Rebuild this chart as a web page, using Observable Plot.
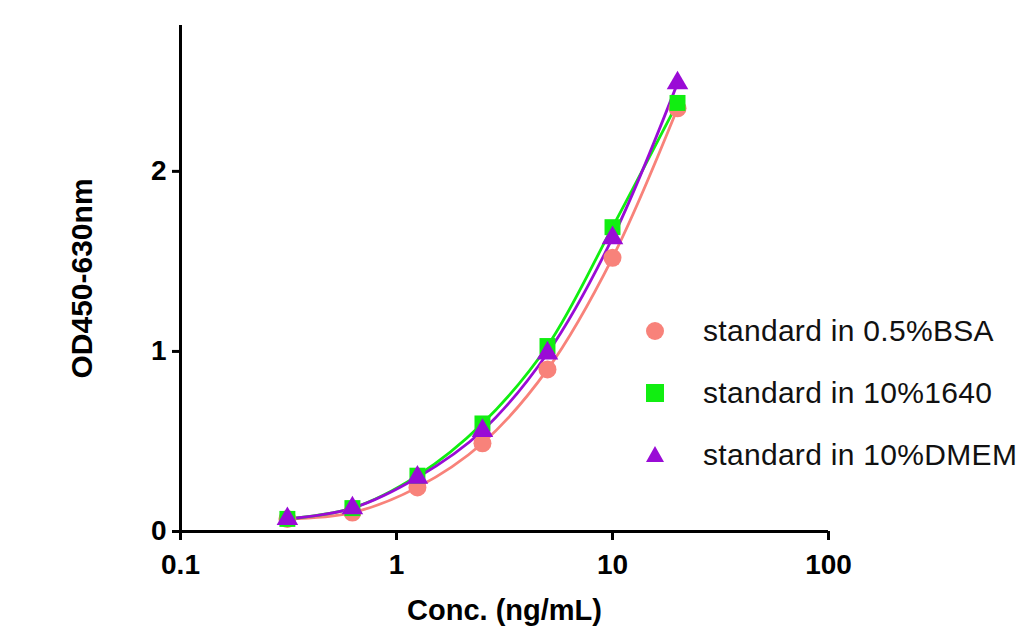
<!DOCTYPE html>
<html>
<head>
<meta charset="utf-8">
<script src="https://cdn.jsdelivr.net/npm/d3@7"></script>
<script src="https://cdn.jsdelivr.net/npm/@observablehq/plot@0.6"></script>
<style>
  html, body { margin: 0; padding: 0; background: #fff; }
  #wrap { position: relative; width: 1027px; height: 641px; font-family: "Liberation Sans", Arial, sans-serif; }
  #legend { position: absolute; left: 640px; top: 300px; }
  .item { display: flex; align-items: center; height: 62px; font-size: 30px; letter-spacing: 0.3px; color: #111; }
  .item svg { width: 30px; height: 30px; margin-right: 33px; }
</style>
</head>
<body>
<div id="wrap"></div>
<script>
const conc = [0.3125, 0.625, 1.25, 2.5, 5, 10, 20];
const seriesNames = ["standard in 0.5%BSA", "standard in 10%1640", "standard in 10%DMEM"];
const bsa  = [0.07, 0.105, 0.245, 0.49, 0.90, 1.52, 2.35];
const rpmi = [0.07, 0.13, 0.31, 0.60, 1.03, 1.69, 2.38];
const dmem = [0.07, 0.13, 0.30, 0.56, 0.99, 1.63, 2.49];
const colors = ["#F8827A", "#11EE11", "#9A0BD6"];
const symbols = ["circle", "square", "triangle"];
const radii = [9, 9, 8];
const xTicks = [0.1, 1, 10, 100];
const yTicks = [0, 1, 2];
const xLabel = "Conc. (ng/mL)";
const yLabel = "OD450-630nm";

const valuesBySeries = [bsa, rpmi, dmem];
const data = valuesBySeries.flatMap((vals, i) =>
  vals.map((v, j) => ({series: seriesNames[i], x: conc[j], y: v})));

const marks = [];
valuesBySeries.forEach((vals, i) => {
  const d = data.filter(p => p.series === seriesNames[i]);
  marks.push(Plot.line(d, {x: "x", y: "y", stroke: colors[i], strokeWidth: 2.8, curve: "catmull-rom"}));
});
valuesBySeries.forEach((vals, i) => {
  const d = data.filter(p => p.series === seriesNames[i]);
  marks.push(Plot.dot(d, {x: "x", y: "y", fill: colors[i], symbol: () => symbols[i], r: radii[i], stroke: "none"}));
});

const chart = Plot.plot({
  width: 1027,
  height: 641,
  marginLeft: 180,
  marginRight: 199,
  marginTop: 25,
  marginBottom: 110,
  style: {fontFamily: "'Liberation Sans', Arial, sans-serif", background: "#fff", color: "#000"},
  x: {type: "log", domain: [0.1, 100]},
  y: {domain: [0, 2.81]},
  symbol: {type: "identity"},
  marks: [
    Plot.axisX({ticks: xTicks, tickFormat: d => String(d), tickSize: 9, tickPadding: 14, strokeWidth: 3,
      fontSize: 28, fontWeight: "bold", label: null}),
    Plot.axisY({ticks: yTicks, tickFormat: d => String(d), tickSize: 8, tickPadding: 6, strokeWidth: 3,
      fontSize: 28, fontWeight: "bold", label: null}),
    Plot.text([xLabel], {text: d => d, frameAnchor: "bottom", dy: 88, fontSize: 29, fontWeight: "bold", fill: "#000"}),
    Plot.text([yLabel], {text: d => d, frameAnchor: "left", textAnchor: "middle", dx: -98, rotate: -90, fontSize: 30, fontWeight: "bold", fill: "#000"}),
    Plot.ruleY([0], {strokeWidth: 3}),
    Plot.ruleX([0.1], {strokeWidth: 3}),
    ...marks
  ]
});
const wrap = document.getElementById("wrap");
wrap.appendChild(chart);

const legend = document.createElement("div");
legend.id = "legend";
const shapes = [
  '<circle cx="15" cy="15" r="9"/>',
  '<rect x="6" y="6" width="18" height="18"/>',
  '<polygon points="15,6 24,22 6,22"/>'
];
seriesNames.forEach((name, i) => {
  const item = document.createElement("div");
  item.className = "item";
  item.innerHTML = `<svg viewBox="0 0 30 30"><g fill="${colors[i]}">${shapes[i]}</g></svg><span>${name}</span>`;
  legend.appendChild(item);
});
wrap.appendChild(legend);
</script>
</body>
</html>
